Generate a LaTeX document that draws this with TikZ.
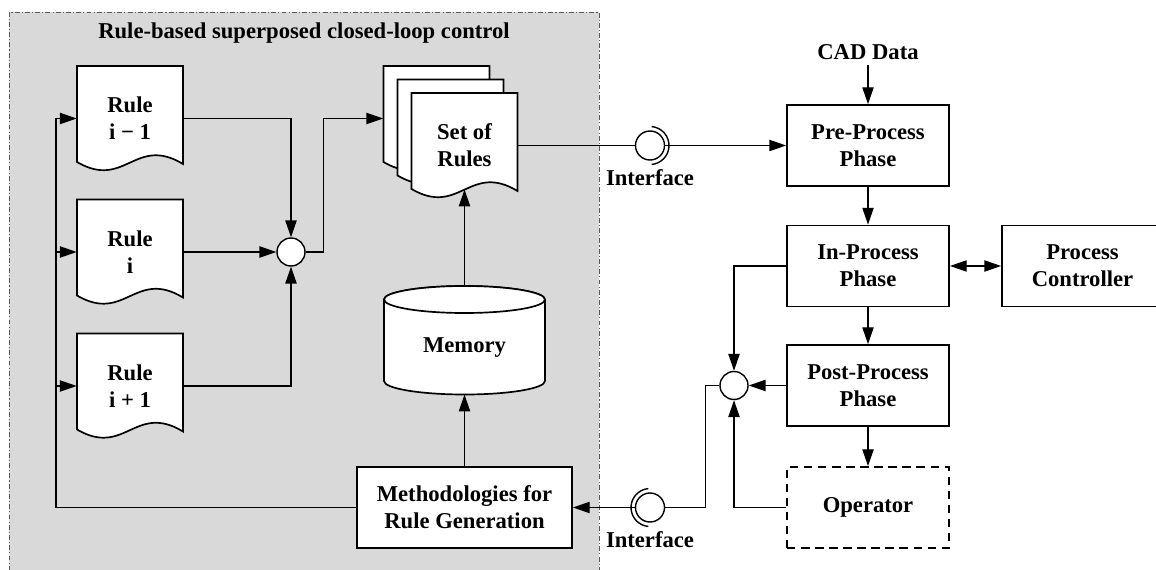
\documentclass[tikz,border=0pt]{standalone}
\usepackage{fontspec}
\setmainfont{Liberation Serif}
\usepackage{tikz}
\usetikzlibrary{arrows.meta, calc}

\newcommand{\diafont}{\fontsize{16.1}{19.2}\selectfont\bfseries}

\tikzset{
  box/.style={draw, line width=1.2pt, fill=white, minimum width=4.05cm, minimum height=2.025cm, align=center, inner sep=0pt, font=\diafont},
  doctext/.style={minimum width=2.65cm, minimum height=2.625cm, inner sep=0pt, align=center, font=\diafont},
  docline/.style={draw, line width=1.2pt, fill=white},
  sumnode/.style={draw, circle, line width=1pt, fill=white, minimum size=0.7cm, inner sep=0pt},
  ifnode/.style={draw, circle, line width=1pt, fill=white, minimum size=0.725cm, inner sep=0pt},
  conn/.style={line width=1pt},
  arr/.style={line width=1pt, -{Triangle[length=12pt, width=8pt]}},
  dblarr/.style={line width=1pt, {Triangle[length=12pt, width=8pt]}-{Triangle[length=12pt, width=8pt]}},
  label/.style={font=\diafont}
}

% document shaped node: name, x, y, text
\newcommand{\docnode}[4]{%
  \draw[docline] ({#2-1.325},{#3+1.3125}) -- ({#2+1.325},{#3+1.3125}) -- ({#2+1.325},{#3-1.1375})
    .. controls ({#2+0.125},{#3-0.4125}) and ({#2-0.125},{#3-1.7875}) .. ({#2-1.325},{#3-1.0875}) -- cycle;
  \node[doctext] (#1) at (#2,#3) {#4};
  \coordinate (#1 wave) at (#2,{#3-1.1});
}

\begin{document}
\begin{tikzpicture}

  \useasboundingbox (0,0) rectangle (28.9,14.225);
  \fill[white] (0,0) rectangle (28.9,14.225);

  % Closed-loop control area
  \draw[fill=gray!30, draw=black!65, line width=0.6pt, dash pattern={on 3.5pt off 1.5pt on 0.8pt off 1.5pt}]
    (0.225,-0.3) rectangle (14.975,13.925);
  \node[label] (title) at (7.6,13.4) {Rule-based superposed closed-loop control};

  % Rules
  \docnode{rprev}{3.25}{11.2625}{Rule\\i − 1}
  \docnode{rcur}{3.25}{7.925}{Rule\\i}
  \docnode{rnext}{3.25}{4.575}{Rule\\i + 1}

  \node[sumnode] (sumA) at (7.275,7.925) {};

  % Set of rules (stacked)
  \docnode{setb}{10.9125}{11.2625}{}
  \docnode{setm}{11.2625}{10.925}{}
  \docnode{setf}{11.6125}{10.5875}{Set of\\Rules}

  % Memory
  \draw[docline] (9.6,6.7375) -- (9.6,4.7) arc[start angle=180, end angle=360, x radius=2.0125, y radius=0.3375]
    -- (13.625,6.7375) arc[start angle=0, end angle=180, x radius=2.0125, y radius=0.3375] -- cycle;
  \draw[docline] (11.6125,6.7375) ellipse [x radius=2.0125, y radius=0.3375];
  \node[label] (mem) at (11.6125,5.525) {Memory};
  \coordinate (mem top) at (11.6125,7.075);
  \coordinate (mem bottom) at (11.6125,4.3625);

  \node[box, minimum width=5.375cm] (meth) at (11.6125,1.5375) {Methodologies for\\Rule Generation};

  % Process chain
  \node[label] (cad) at (21.7,12.925) {CAD Data};
  \node[box] (pre) at (21.7,10.5875) {Pre-Process\\Phase};
  \node[box] (inproc) at (21.7,7.575) {In-Process\\Phase};
  \node[box, minimum width=4.025cm] (ctrl) at (27.0625,7.575) {Process\\Controller};
  \node[box] (post) at (21.7,4.5875) {Post-Process\\Phase};
  \node[box, dashed, dash pattern={on 6pt off 4pt}] (op) at (21.7,1.5375) {Operator};
  \node[sumnode] (sumB) at (18.35,4.5875) {};

  % Interfaces
  \node[ifnode] (ifA) at (16.25,10.5875) {};
  \draw[conn] (ifA.center) ++(85:0.475) arc[start angle=85, end angle=-85, radius=0.475];
  \node[label] (ifAlbl) at (16.25,9.775) {Interface};
  \node[ifnode] (ifB) at (16.25,1.5375) {};
  \draw[conn] (ifB.center) ++(95:0.475) arc[start angle=95, end angle=265, radius=0.475];
  \node[label] (ifBlbl) at (16.25,0.725) {Interface};

  % Connectors, left part
  \coordinate (fb) at (1.4,11.2625);
  \draw[arr] (meth.west) -| (fb) -- (rprev.west);
  \draw[arr] (fb |- rcur.west) -- (rcur.west);
  \draw[arr] (fb |- rnext.west) -- (rnext.west);
  \draw[arr] (rprev.east) -| (sumA.north);
  \draw[arr] (rcur.east) -- (sumA.west);
  \draw[arr] (rnext.east) -| (sumA.south);
  \draw[arr] (sumA.east) -- ++(0.45,0) |- (setb.west);
  \draw[arr] (mem top) -- (setf wave);
  \draw[arr] (meth.north) -- (mem bottom);

  % Connectors, right part
  \draw[conn] (setf.east) -- (ifA.west);
  \draw[arr] (ifA.east) -- (pre.west);
  \draw[arr] (cad) -- (pre);
  \draw[arr] (pre) -- (inproc);
  \draw[dblarr] (inproc) -- (ctrl);
  \draw[arr] (inproc) -- (post);
  \draw[arr] (post) -- (op);
  \draw[arr] (inproc.west) -| (sumB.north);
  \draw[arr] (post.west) -- (sumB.east);
  \draw[arr] (op.west) -| (sumB.south);
  \draw[conn] (sumB.west) -- ++(-0.35,0) |- (ifB.east);
  \draw[arr] (ifB.west) -- (meth.east);

\end{tikzpicture}
\end{document}
